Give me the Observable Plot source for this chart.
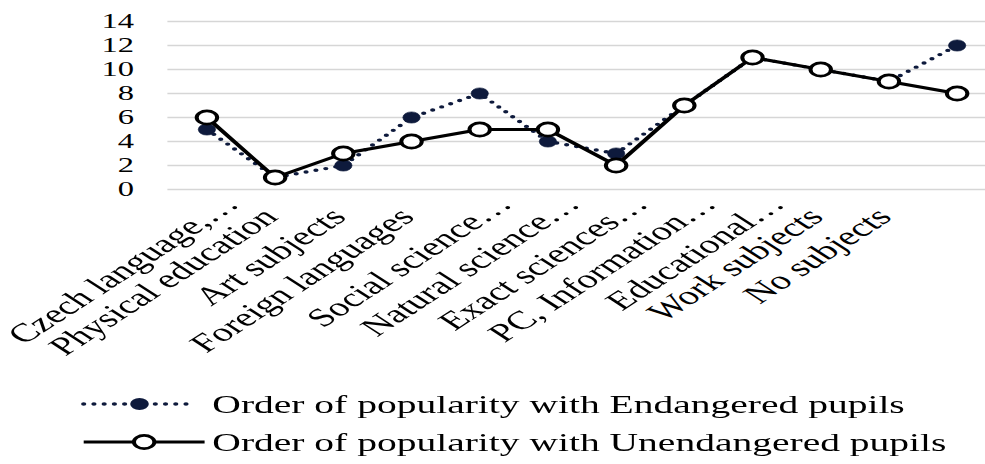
<!DOCTYPE html>
<html>
<head>
<meta charset="utf-8">
<script src="https://cdn.jsdelivr.net/npm/d3@7"></script>
<script src="https://cdn.jsdelivr.net/npm/@observablehq/plot@0.6"></script>
<style>
  html, body { margin: 0; padding: 0; background: #fff; overflow: hidden; }
  #wrap {
    width: 642px;
    transform: scaleX(1.55);
    transform-origin: 0 0;
    font-family: "Liberation Serif", "Times New Roman", serif;
  }
  #wrap svg { display: block; overflow: visible; }
</style>
</head>
<body>
<div id="wrap"></div>
<script>
// School subjects, in the order they appear on the x axis
const subjects = [
  "Czech language,…", "Physical education", "Art subjects", "Foreign languages",
  "Social science…", "Natural science…", "Exact sciences…", "PC, Information…",
  "Educational…", "Work subjects", "No subjects", ""
];
// Rank of popularity for each subject
const endangered   = [5, 1, 2, 6, 8, 4, 3, 7, 11, 10, 9, 12];
const unendangered = [6, 1, 3, 4, 5, 5, 2, 7, 11, 10, 9, 8];
const yTicks = [0, 2, 4, 6, 8, 10, 12, 14];

const seriesNames = [
  "Order of popularity with Endangered pupils",
  "Order of popularity with Unendangered pupils"
];

const rowsE = subjects.map((s, i) => ({subject: s, value: endangered[i]}));
const rowsU = subjects.map((s, i) => ({subject: s, value: unendangered[i]}));

// truncated labels sit a little further along their slant
const shortLabels = subjects.filter(s => s && !s.endsWith("…"));
const cutLabels = subjects.filter(s => s.endsWith("…"));

const navy = "#0e1a3c";
const serif = '"Liberation Serif", "Times New Roman", serif';

const chart = Plot.plot({
  width: 642,
  height: 364,
  marginLeft: 108,
  marginRight: 0,
  marginTop: 21,
  marginBottom: 175,
  style: {fontFamily: serif, color: "#000", background: "#fff"},
  x: {type: "point", domain: subjects, padding: 0.5},
  y: {domain: [0, 14]},
  marks: [
    Plot.gridY(yTicks, {stroke: "#d6d6d6", strokeOpacity: 1, strokeWidth: 1.5}),
    Plot.axisY(yTicks, {tickSize: 0, tickPadding: 22, fontSize: 21, label: null}),
    Plot.axisX(shortLabels, {tickSize: 0, tickPadding: 23, tickRotate: -45, fontSize: 26, label: null, dx: -3}),
    Plot.axisX(cutLabels, {tickSize: 0, tickPadding: 23, tickRotate: -45, fontSize: 26, label: null, dx: 16, dy: -13}),
    Plot.line(rowsE, {x: "subject", y: "value", stroke: navy, strokeWidth: 3.4,
      strokeDasharray: "0 6.6", strokeLinecap: "round"}),
    Plot.dot(rowsE, {x: "subject", y: "value", r: 5.6, fill: navy, stroke: navy, strokeWidth: 0.5}),
    Plot.line(rowsU, {x: "subject", y: "value", stroke: "#000", strokeWidth: 3}),
    Plot.dot(rowsU, {x: "subject", y: "value", r: 6.6, fill: "#fff", stroke: "#000", strokeWidth: 2.6})
  ]
});
document.getElementById("wrap").appendChild(chart);

// Legend below the chart
const legend = d3.create("svg").attr("width", 642).attr("height", 100)
  .style("font-family", serif);
const rowY = [40, 78];
// dotted series swatch
legend.append("line").attr("x1", 54).attr("x2", 124).attr("y1", rowY[0]).attr("y2", rowY[0])
  .attr("stroke", navy).attr("stroke-width", 3.4).attr("stroke-dasharray", "0 6.6").attr("stroke-linecap", "round");
legend.append("circle").attr("cx", 90).attr("cy", rowY[0]).attr("r", 6).attr("fill", navy);
// solid series swatch
legend.append("line").attr("x1", 54).attr("x2", 132).attr("y1", rowY[1]).attr("y2", rowY[1])
  .attr("stroke", "#000").attr("stroke-width", 3);
legend.append("circle").attr("cx", 93).attr("cy", rowY[1]).attr("r", 6.6)
  .attr("fill", "#fff").attr("stroke", "#000").attr("stroke-width", 2.6);
seriesNames.forEach((name, i) => {
  legend.append("text").attr("x", 137).attr("y", rowY[i]).attr("dy", "0.35em")
    .attr("font-size", 25.5).attr("fill", "#000").text(name);
});
document.getElementById("wrap").appendChild(legend.node());
</script>
</body>
</html>
